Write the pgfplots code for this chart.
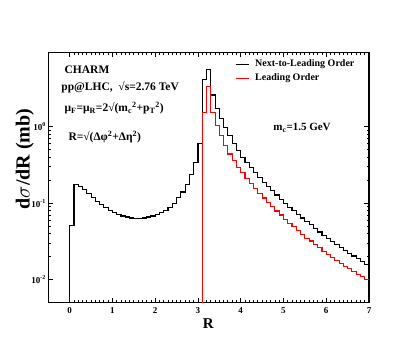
\documentclass[border=0pt]{standalone}
\usepackage{pgfplots}
\pgfplotsset{compat=1.18}
\usepackage{fontspec}
\setmainfont{Liberation Serif}
\begin{document}
\begin{tikzpicture}
\path[use as bounding box] (-48.3pt,-49.3pt) rectangle (366.7pt,302.7pt);
\begin{axis}[
  at={(0,0)}, anchor=south west,
  scale only axis, width=320.7pt, height=250.4pt,
  ymode=log, xmin=-0.5, xmax=7, ymin=0.005, ymax=9.4,
  xtick={0,1,2,3,4,5,6,7}, xticklabels={0,1,2,3,4,5,6,7},
  minor x tick num=9,
  ytick={0.01,0.1,1},
  yticklabels={10\textsuperscript{-2},10\textsuperscript{-1},10\textsuperscript{0}},
  tick align=inside,
  major tick length=5pt, minor tick length=2.5pt,
  every tick/.style={black, line width=0.8pt},
  axis line style={line width=1.1pt},
  ticklabel style={font=\bfseries\fontsize{9}{10}\selectfont},
  xticklabel style={yshift=-1pt},
  yticklabel style={xshift=1pt},
  xlabel={R}, ylabel={d$\sigma$/dR (mb)},
  xlabel style={at={(axis description cs:0.499,-0.085)}, anchor=center, font=\bfseries\fontsize{15}{16}\selectfont},
  ylabel style={at={(axis description cs:-0.073,0.574)}, anchor=center, font=\bfseries\fontsize{20}{21}\selectfont},
  legend style={draw=none, fill=none, at={(0.582,0.978)}, anchor=north west, font=\bfseries\fontsize{10}{11}\selectfont, row sep=1.5pt, inner sep=0pt},
  legend cell align=left,
  legend image code/.code={\draw[#1] (0pt,0pt) -- (13pt,0pt); \path (17pt,0pt);},
  clip=true,
]
\addplot[const plot mark left, black, line width=1.1pt] coordinates {
(0,0.001) (0,0.051) (0.1,0.176) (0.2,0.167) (0.3,0.150) (0.4,0.133)
(0.5,0.118) (0.6,0.106) (0.7,0.095) (0.8,0.087) (0.9,0.080)
(1.0,0.075) (1.1,0.071) (1.2,0.068) (1.3,0.066) (1.4,0.064)
(1.5,0.063) (1.6,0.063) (1.7,0.064) (1.8,0.066) (1.9,0.068)
(2.0,0.072) (2.1,0.076) (2.2,0.081) (2.3,0.089) (2.4,0.100)
(2.5,0.119) (2.6,0.140) (2.7,0.177) (2.8,0.238) (2.9,0.34)
(3.0,0.60) (3.1,4.1) (3.2,5.65) (3.3,2.6) (3.4,1.74)
(3.5,1.27) (3.6,0.97) (3.7,0.76) (3.8,0.61) (3.9,0.49)
(4.0,0.40) (4.1,0.34) (4.2,0.29) (4.3,0.25) (4.4,0.215)
(4.5,0.188) (4.6,0.165) (4.7,0.145) (4.8,0.128) (4.9,0.113)
(5.0,0.100) (5.1,0.089) (5.2,0.080) (5.3,0.072) (5.4,0.064)
(5.5,0.057) (5.6,0.052) (5.7,0.047) (5.8,0.042) (5.9,0.038)
(6.0,0.0345) (6.1,0.0315) (6.2,0.0288) (6.3,0.0263) (6.4,0.0241)
(6.5,0.0222) (6.6,0.0204) (6.7,0.0188) (6.8,0.0173) (6.9,0.0158)
(7.0,0.0158)
};
\addlegendentry{Next-to-Leading Order}
\addplot[const plot mark left, red, line width=1.1pt] coordinates {
(3.1,0.001) (3.1,1.52) (3.2,3.4) (3.3,1.55) (3.4,1.05)
(3.5,0.76) (3.6,0.57) (3.7,0.44) (3.8,0.36) (3.9,0.295)
(4.0,0.25) (4.1,0.212) (4.2,0.181) (4.3,0.156) (4.4,0.134)
(4.5,0.117) (4.6,0.103) (4.7,0.090) (4.8,0.079) (4.9,0.070)
(5.0,0.061) (5.1,0.055) (5.2,0.049) (5.3,0.044) (5.4,0.039)
(5.5,0.035) (5.6,0.032) (5.7,0.029) (5.8,0.026) (5.9,0.0235)
(6.0,0.0213) (6.1,0.0195) (6.2,0.0178) (6.3,0.0163) (6.4,0.0150)
(6.5,0.0139) (6.6,0.0128) (6.7,0.0118) (6.8,0.0109) (6.9,0.0100)
(7.0,0.0100)
};
\addlegendentry{Leading Order}
\node[anchor=west, font=\bfseries\fontsize{11.5}{12}\selectfont] at (rel axis cs:0.040,0.932) {CHARM};
\node[anchor=west, font=\bfseries\fontsize{11.5}{12}\selectfont] at (rel axis cs:0.030,0.861) {pp@LHC,\ \ √s=2.76 TeV};
\node[anchor=west, font=\bfseries\fontsize{11.5}{12}\selectfont] at (rel axis cs:0.040,0.777) {μ\textsubscript{F}=μ\textsubscript{R}=2√(m\textsubscript{c}\textsuperscript{2}+p\textsubscript{T}\textsuperscript{2})};
\node[anchor=west, font=\bfseries\fontsize{11.5}{12}\selectfont] at (rel axis cs:0.052,0.662) {R=√(Δφ\textsuperscript{2}+Δη\textsuperscript{2})};
\node[anchor=west, font=\bfseries\fontsize{11}{12}\selectfont] at (rel axis cs:0.691,0.699) {m\textsubscript{c}=1.5 GeV};
\end{axis}
\end{tikzpicture}
\end{document}
